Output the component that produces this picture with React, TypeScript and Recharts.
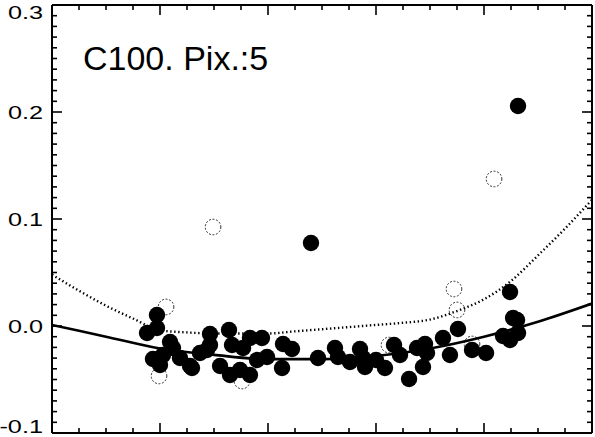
import React from 'react';
import { ComposedChart, Scatter, Line, XAxis, YAxis } from 'recharts';

// filled points (x in plot units 0..5, y in data units)
const filledX = [0.972, 0.88, 0.972, 1.093, 0.935, 1.028, 1.185, 1.12, 1.278, 1.0, 1.37, 1.463, 1.463, 1.639, 1.667, 1.556, 1.648, 1.769, 1.833, 1.741, 1.833, 1.898, 1.944, 2.139, 2.222, 2.13, 2.463, 2.62, 2.648, 2.759, 2.852, 2.88, 2.898, 3.0, 3.083, 3.167, 3.222, 3.306, 3.38, 3.454, 3.472, 3.435, 3.62, 3.759, 3.685, 3.889, 4.019, 4.176, 4.241, 4.269, 4.315, 4.241, 2.398, 4.315, 1.435, 1.296, 1.991, 4.306];
const filledY = [0.0103, -0.0065, -0.0019, -0.015, -0.0308, -0.0271, -0.0299, -0.0206, -0.0374, -0.0364, -0.0252, -0.0075, -0.0178, -0.0037, -0.0178, -0.0374, -0.0458, -0.0206, -0.0112, -0.0411, -0.0458, -0.0318, -0.0112, -0.0168, -0.0215, -0.0393, -0.0299, -0.0206, -0.029, -0.0336, -0.0215, -0.0299, -0.0383, -0.0318, -0.0393, -0.0178, -0.0271, -0.0495, -0.0206, -0.0168, -0.0252, -0.0383, -0.0112, -0.0028, -0.0271, -0.0224, -0.0252, -0.0093, -0.0131, 0.0075, -0.0065, 0.0318, 0.0776, 0.2056, -0.0224, -0.0393, -0.029, 0.0056];

// open (rejected) points
const openX = [1.491, 4.093, 3.722, 3.75, 1.056, 0.991, 1.759, 3.12, 3.889];
const openY = [0.0925, 0.1374, 0.0346, 0.015, 0.0178, -0.0467, -0.0514, -0.0178, -0.0168];

// solid fit
const fitX = [0, 0.5, 1, 1.5, 2, 2.5, 3, 3.5, 4, 4.5, 5];
const fitY = [0.001, -0.01, -0.021, -0.027, -0.031, -0.031, -0.028, -0.021, -0.01, 0.004, 0.021];

// dotted upper curve
const upX = [0, 0.25, 0.5, 0.75, 1, 1.25, 1.5, 1.75, 2, 2.25, 2.5, 2.75, 3, 3.25, 3.5, 3.75, 4, 4.25, 4.5, 4.75, 5];
const upY = [0.048, 0.033, 0.019, 0.007, -0.004, -0.006, -0.007, -0.007, -0.007, -0.005, -0.003, -0.001, 0.001, 0.003, 0.006, 0.014, 0.025, 0.042, 0.066, 0.091, 0.118];

const xTicks = [0, 0.25, 0.5, 0.75, 1, 1.25, 1.5, 1.75, 2, 2.25, 2.5, 2.75, 3, 3.25, 3.5, 3.75, 4, 4.25, 4.5, 4.75, 5];
const yTicks = [-0.1, -0.09, -0.08, -0.07, -0.06, -0.05, -0.04, -0.03, -0.02, -0.01, 0, 0.01, 0.02, 0.03, 0.04, 0.05, 0.06, 0.07, 0.08, 0.09, 0.1, 0.11, 0.12, 0.13, 0.14, 0.15, 0.16, 0.17, 0.18, 0.19, 0.2, 0.21, 0.22, 0.23, 0.24, 0.25, 0.26, 0.27, 0.28, 0.29, 0.3];

const filled = filledX.map((x, i) => ({ x, y: filledY[i] }));
const open = openX.map((x, i) => ({ x, y: openY[i] }));
const fit = fitX.map((x, i) => ({ x, y: fitY[i] }));
const upper = upX.map((x, i) => ({ x, y: upY[i] }));

const W = 595;
const H = 437;
const TOP = 5;
const BOTTOM = 433;
const TW = 1.6;

const isMajorX = (v: number) => Math.abs(v - Math.round(v)) < 1e-6;
const isMajorY = (v: number) => Math.abs(Math.round(v * 100)) % 10 === 0;

const BottomTick = (props: any) => {
  const { x, y, payload } = props;
  const len = isMajorX(payload.value) ? 10 : 5;
  return <line x1={x} x2={x} y1={y} y2={y - len} stroke="#000" strokeWidth={TW} />;
};

const TopTick = (props: any) => {
  const { x, y, payload } = props;
  const len = isMajorX(payload.value) ? 10 : 5;
  return <line x1={x} x2={x} y1={y} y2={y + len} stroke="#000" strokeWidth={TW} />;
};

const RightTick = (props: any) => {
  const { x, y, payload } = props;
  const len = isMajorY(payload.value) ? 10 : 5;
  return <line x1={x} x2={x - len} y1={y} y2={y} stroke="#000" strokeWidth={TW} />;
};

const LeftTick = (props: any) => {
  const { x, y, payload } = props;
  const major = isMajorY(payload.value);
  const len = major ? 10 : 5;
  const center = Math.min(Math.max(y, TOP + 6.8), BOTTOM - 6.8);
  return (
    <g>
      <line x1={x} x2={x + len} y1={y} y2={y} stroke="#000" strokeWidth={TW} />
      {major && (
        <text
          transform={`translate(43, ${center + 6.8}) scale(1.33, 1)`}
          textAnchor="end"
          fontFamily="Liberation Sans, Arial, sans-serif"
          fontSize={19}
          fill="#000"
        >
          {payload.value.toFixed(1)}
        </text>
      )}
    </g>
  );
};

const FilledDot = (props: any) => <circle cx={props.cx} cy={props.cy} r={8.2} fill="#000" />;
const OpenDot = (props: any) => (
  <circle cx={props.cx} cy={props.cy} r={7.8} fill="none" stroke="#000" strokeWidth={0.8} strokeDasharray="2 1.6" />
);

export default function App() {
  return (
    <div style={{ position: 'absolute', left: 0, top: 0, background: '#fff' }}>
      <ComposedChart width={W} height={H} margin={{ top: TOP - 1, right: 2, bottom: H - BOTTOM - 1, left: 0 }}>
        <XAxis
          xAxisId={0}
          dataKey="x"
          type="number"
          domain={[0, 5]}
          allowDataOverflow
          ticks={xTicks}
          interval={0}
          height={1}
          tickSize={0}
          tickMargin={0}
          tick={<BottomTick />}
          axisLine={{ stroke: '#000', strokeWidth: 2 }}
        />
        <XAxis
          xAxisId="top"
          orientation="top"
          dataKey="x"
          type="number"
          domain={[0, 5]}
          allowDataOverflow
          ticks={xTicks}
          interval={0}
          height={1}
          tickSize={0}
          tickMargin={0}
          tick={<TopTick />}
          axisLine={{ stroke: '#000', strokeWidth: 2 }}
        />
        <YAxis
          yAxisId={0}
          dataKey="y"
          type="number"
          domain={[-0.1, 0.3]}
          allowDataOverflow
          ticks={yTicks}
          interval={0}
          width={52}
          tickSize={0}
          tickMargin={0}
          tick={<LeftTick />}
          axisLine={{ stroke: '#000', strokeWidth: 2 }}
        />
        <YAxis
          yAxisId="right"
          orientation="right"
          dataKey="y"
          type="number"
          domain={[-0.1, 0.3]}
          allowDataOverflow
          ticks={yTicks}
          interval={0}
          width={1}
          tickSize={0}
          tickMargin={0}
          tick={<RightTick />}
          axisLine={{ stroke: '#000', strokeWidth: 2 }}
        />
        <Line data={fit} dataKey="y" type="monotone" stroke="#000" strokeWidth={2.6} dot={false} isAnimationActive={false} />
        <Line
          data={upper}
          dataKey="y"
          type="monotone"
          stroke="#000"
          strokeWidth={2.4}
          strokeDasharray="1.4 2.6"
          dot={false}
          isAnimationActive={false}
        />
        <Scatter data={open} dataKey="y" shape={<OpenDot />} isAnimationActive={false} />
        <Scatter data={filled} dataKey="y" shape={<FilledDot />} isAnimationActive={false} />
        <text x={83} y={70} fontFamily="Liberation Sans, Arial, sans-serif" fontSize={34} fill="#000">
          C100. Pix.:5
        </text>
      </ComposedChart>
    </div>
  );
}
